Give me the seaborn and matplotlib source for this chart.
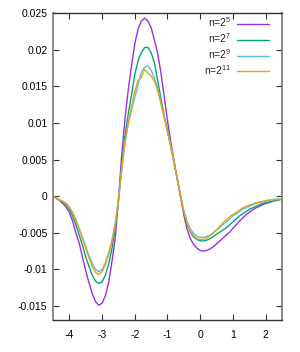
import numpy as np
import pandas as pd
import matplotlib
matplotlib.use("Agg")
import matplotlib.pyplot as plt
import seaborn as sns

x = [-4.5, -4.4, -4.3, -4.2, -4.1, -4.0, -3.9, -3.8, -3.7, -3.6,
     -3.5, -3.4, -3.3, -3.2, -3.1, -3.0, -2.9, -2.8, -2.7, -2.6,
     -2.5, -2.4, -2.3, -2.2, -2.1, -2.0, -1.9, -1.8, -1.7, -1.6,
     -1.5, -1.4, -1.3, -1.2, -1.1, -1.0, -0.9, -0.8, -0.7, -0.6,
     -0.5, -0.4, -0.3, -0.2, -0.1, 0.0, 0.1, 0.2, 0.3, 0.4,
     0.5, 0.6, 0.7, 0.8, 0.9, 1.0, 1.1, 1.2, 1.3, 1.4,
     1.5, 1.6, 1.7, 1.8, 1.9, 2.0, 2.1, 2.2, 2.3, 2.4,
     2.5]

n5 = [0.0000, -0.0003, -0.0006, -0.0010, -0.0015, -0.0022, -0.0034, -0.0050, -0.0064, -0.0083,
      -0.0102, -0.0118, -0.0133, -0.0144, -0.0149, -0.0146, -0.0136, -0.0118, -0.0090, -0.0058,
      -0.0005, 0.0056, 0.0105, 0.0145, 0.0178, 0.0208, 0.0228, 0.0239, 0.0243, 0.0239,
      0.0230, 0.0213, 0.0195, 0.0168, 0.0136, 0.0103, 0.0074, 0.0048, 0.0023, -0.0001,
      -0.0026, -0.0045, -0.0058, -0.0066, -0.0071, -0.0074, -0.0075, -0.0074, -0.0072, -0.0069,
      -0.0065, -0.0061, -0.0057, -0.0053, -0.0049, -0.0044, -0.0039, -0.0034, -0.0030, -0.0025,
      -0.0022, -0.0019, -0.0016, -0.0014, -0.0012, -0.0010, -0.0009, -0.0007, -0.0006, -0.0005,
      -0.0004]

n7 = [0.0000, -0.0003, -0.0005, -0.0008, -0.0012, -0.0018, -0.0027, -0.0039, -0.0053, -0.0067,
      -0.0083, -0.0096, -0.0108, -0.0116, -0.0119, -0.0117, -0.0108, -0.0093, -0.0072, -0.0045,
      -0.0008, 0.0040, 0.0082, 0.0112, 0.0138, 0.0166, 0.0185, 0.0196, 0.0203, 0.0203,
      0.0196, 0.0182, 0.0158, 0.0133, 0.0110, 0.0089, 0.0068, 0.0046, 0.0023, 0.0000,
      -0.0022, -0.0038, -0.0049, -0.0056, -0.0059, -0.0061, -0.0061, -0.0060, -0.0058, -0.0055,
      -0.0052, -0.0049, -0.0046, -0.0043, -0.0039, -0.0035, -0.0031, -0.0027, -0.0024, -0.0021,
      -0.0018, -0.0016, -0.0014, -0.0012, -0.0010, -0.0009, -0.0008, -0.0007, -0.0006, -0.0005,
      -0.0004]

n9 = [0.0000, -0.0003, -0.0005, -0.0007, -0.0010, -0.0015, -0.0022, -0.0032, -0.0044, -0.0056,
      -0.0069, -0.0081, -0.0092, -0.0100, -0.0103, -0.0100, -0.0091, -0.0078, -0.0061, -0.0038,
      -0.0005, 0.0035, 0.0072, 0.0098, 0.0118, 0.0135, 0.0152, 0.0169, 0.0176, 0.0178,
      0.0172, 0.0161, 0.0148, 0.0128, 0.0108, 0.0088, 0.0068, 0.0046, 0.0023, 0.0000,
      -0.0020, -0.0035, -0.0045, -0.0051, -0.0055, -0.0056, -0.0056, -0.0055, -0.0053, -0.0050,
      -0.0046, -0.0043, -0.0039, -0.0035, -0.0031, -0.0027, -0.0024, -0.0021, -0.0018, -0.0016,
      -0.0014, -0.0012, -0.0010, -0.0009, -0.0008, -0.0007, -0.0006, -0.0005, -0.0005, -0.0004,
      -0.0004]

n11 = [0.0000, -0.0003, -0.0005, -0.0007, -0.0010, -0.0016, -0.0023, -0.0033, -0.0045, -0.0058,
       -0.0071, -0.0084, -0.0096, -0.0104, -0.0107, -0.0103, -0.0094, -0.0080, -0.0062, -0.0039,
       -0.0005, 0.0038, 0.0075, 0.0100, 0.0122, 0.0143, 0.0158, 0.0162, 0.0173, 0.0168,
       0.0164, 0.0157, 0.0144, 0.0126, 0.0107, 0.0088, 0.0068, 0.0046, 0.0024, 0.0001,
       -0.0021, -0.0037, -0.0048, -0.0054, -0.0058, -0.0059, -0.0059, -0.0057, -0.0054, -0.0050,
       -0.0046, -0.0041, -0.0036, -0.0032, -0.0028, -0.0025, -0.0022, -0.0019, -0.0016, -0.0014,
       -0.0012, -0.0011, -0.0009, -0.0008, -0.0007, -0.0006, -0.0005, -0.0005, -0.0004, -0.0004,
       -0.0004]

labels = ["n=2$^{5}$", "n=2$^{7}$", "n=2$^{9}$", "n=2$^{11}$"]
colors = ["#9b30e0", "#00a67a", "#5cbcee", "#eaa210"]
xticks = [-4, -3, -2, -1, 0, 1, 2]
yticks = [-0.015, -0.01, -0.005, 0, 0.005, 0.01, 0.015, 0.02, 0.025]
ytick_labels = ["-0.015", "-0.01", "-0.005", "0", "0.005", "0.01", "0.015", "0.02", "0.025"]
xtick_labels = ["-4", "-3", "-2", "-1", "0", "1", "2"]

frames = []
for lab, vals in zip(labels, [n5, n7, n9, n11]):
    frames.append(pd.DataFrame({"x": x, "y": vals, "series": lab}))
df = pd.concat(frames, ignore_index=True)

sns.set_style("ticks")
plt.rcParams["font.family"] = ["Liberation Sans", "DejaVu Sans"]
plt.rcParams["mathtext.fontset"] = "custom"
plt.rcParams["mathtext.rm"] = "Liberation Sans"
plt.rcParams["mathtext.default"] = "regular"

fig = plt.figure(figsize=(3.0, 3.52), dpi=100)
ax = fig.add_axes([53/300, 1 - 320/352, (282 - 53)/300, (320 - 13)/352])

sns.lineplot(data=df, x="x", y="y", hue="series", hue_order=labels,
             palette=colors, linewidth=1.0, ax=ax, sort=False)

ax.set_xlim(-4.5, 2.5)
ax.set_ylim(-0.0169, 0.025)
ax.set_xticks(xticks)
ax.set_xticklabels(xtick_labels)
ax.set_yticks(yticks)
ax.set_yticklabels(ytick_labels)
ax.set_xlabel("")
ax.set_ylabel("")
ax.tick_params(direction="in", length=4, width=0.8, top=True, right=True,
               labelsize=7.5, colors="#333333", labelcolor="black")
ax.tick_params(axis="x", pad=7.5)
ax.tick_params(axis="y", pad=4)
for side in ["top", "bottom"]:
    ax.spines[side].set_color("#333333")
    ax.spines[side].set_linewidth(1.0)
for side in ["left", "right"]:
    ax.spines[side].set_color("#777777")
    ax.spines[side].set_linewidth(1.2)
for side in ["top", "right", "bottom", "left"]:
    ax.spines[side].set_visible(True)

leg = ax.legend(loc="upper right", frameon=False, markerfirst=False,
                fontsize=7.5, handlelength=3.0, handletextpad=0.6,
                labelspacing=0.2, borderaxespad=0.0,
                bbox_to_anchor=(0.96, 1.005))

fig.savefig("out.png", dpi=100)
